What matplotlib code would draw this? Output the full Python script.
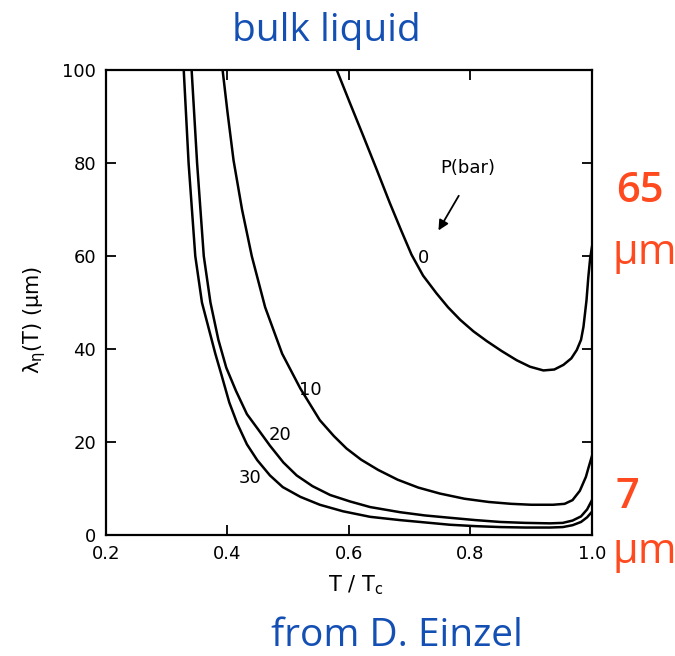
import matplotlib.pyplot as plt

# lambda_eta(T) in um vs T/Tc
p0_x = [0.580, 0.602, 0.624, 0.646, 0.667, 0.686, 0.703, 0.722, 0.744, 0.763, 0.783, 0.805,
        0.827, 0.851, 0.876, 0.898, 0.920, 0.938, 0.953, 0.966, 0.975, 0.982, 0.986, 0.991,
        0.994, 0.997, 1.0]
p0_y = [100, 92.8, 85.7, 78.5, 71.5, 65.5, 60.3, 55.8, 52.0, 49.0, 46.3, 43.8,
        41.7, 39.6, 37.6, 36.2, 35.4, 35.6, 36.6, 38.0, 39.8, 42.0, 44.8, 50.5,
        55.5, 59.5, 62.0]

p10_x = [0.392, 0.400, 0.410, 0.424, 0.440, 0.462, 0.490, 0.520, 0.552, 0.575, 0.596, 0.620,
         0.648, 0.680, 0.714, 0.750, 0.790, 0.830, 0.867, 0.900, 0.936, 0.955, 0.968, 0.980,
         0.990, 0.995, 1.0]
p10_y = [100, 91, 80.6, 70, 60, 49, 39, 31.5, 24.7, 21.3, 18.6, 16.2,
         14.0, 11.9, 10.2, 8.9, 7.8, 7.1, 6.7, 6.5, 6.5, 6.7, 7.5, 9.5,
         12.5, 14.8, 17.0]

p20_x = [0.341, 0.350, 0.361, 0.372, 0.385, 0.398, 0.414, 0.432, 0.450, 0.470, 0.492,
         0.514, 0.540, 0.569, 0.602, 0.635, 0.684, 0.725, 0.766, 0.808, 0.849, 0.890,
         0.931, 0.952, 0.968, 0.982, 0.992, 1.0]
p20_y = [100, 80, 60, 50, 42, 36, 31, 26, 22.8, 19.2, 15.6,
         12.8, 10.5, 8.6, 7.2, 6.0, 4.9, 4.2, 3.7, 3.2, 2.8, 2.6,
         2.5, 2.6, 3.1, 4.0, 5.5, 7.5]

p30_x = [0.328, 0.336, 0.347, 0.358, 0.370, 0.380, 0.390, 0.403, 0.416, 0.432, 0.449,
         0.470, 0.491, 0.520, 0.552, 0.590, 0.635, 0.684, 0.725, 0.766, 0.808, 0.849,
         0.890, 0.931, 0.952, 0.968, 0.982, 0.992, 1.0]
p30_y = [100, 80, 60, 50, 44, 39, 34.5, 28.5, 24, 19.5, 16.1,
         12.8, 10.3, 8.2, 6.5, 5.1, 3.9, 3.2, 2.7, 2.2, 1.9, 1.7,
         1.6, 1.6, 1.7, 2.1, 2.8, 3.8, 5.0]

curve_labels = ["0", "10", "20", "30"]
label_x = [0.722, 0.537, 0.486, 0.437]
label_y = [59.6, 31.2, 21.5, 12.3]

x_ticks = [0.2, 0.4, 0.6, 0.8, 1.0]
x_tick_labels = ["0.2", "0.4", "0.6", "0.8", "1.0"]
y_ticks = [0, 20, 40, 60, 80, 100]

fig = plt.figure(figsize=(6.75, 6.56), dpi=100)
ax = fig.add_axes([0.157, 0.1845, 0.72, 0.7085])

for xs, ys in [(p0_x, p0_y), (p10_x, p10_y), (p20_x, p20_y), (p30_x, p30_y)]:
    ax.plot(xs, ys, color="black", lw=1.8, solid_joinstyle="round")

for lab, lx, ly in zip(curve_labels, label_x, label_y):
    ax.text(lx, ly, lab, fontsize=13, ha="center", va="center")

ax.text(0.795, 79, "P(bar)", fontsize=13, ha="center", va="center")
ax.annotate("", xy=(0.745, 65.0), xytext=(0.783, 73.5),
            arrowprops=dict(arrowstyle="-|>", color="black", lw=1.3, mutation_scale=15))

ax.set_xlim(0.2, 1.0)
ax.set_ylim(0, 100)
ax.set_xticks(x_ticks)
ax.set_xticklabels(x_tick_labels)
ax.set_yticks(y_ticks)
ax.tick_params(direction="in", length=7, width=1.3, labelsize=13,
               top=True, right=True, pad=7)
for s in ax.spines.values():
    s.set_linewidth(1.6)

fig.text(0.526, 0.108, "T / T$_\\mathregular{c}$", fontsize=15, ha="center", va="center")
fig.text(0.052, 0.512, r"$\mathregular{\lambda_\eta}$(T) ($\mathregular{\mu}$m)",
         fontsize=15, rotation=90, ha="center", va="center")

blue = "#1450b4"
red = "#fe4a1e"
fig.text(0.484, 0.952, "bulk liquid", color=blue, fontsize=28, family="Open Sans",
         ha="center", va="center")
fig.text(0.588, 0.030, "from D. Einzel", color=blue, fontsize=28, family="Open Sans",
         ha="center", va="center")
fig.text(0.948, 0.709, "65", color=red, fontsize=30, family="Open Sans", weight="semibold",
         ha="center", va="center")
fig.text(0.953, 0.612, r"$\mathregular{\mu}$m", color=red, fontsize=30, family="Open Sans",
         ha="center", va="center")
fig.text(0.929, 0.242, "7", color=red, fontsize=30, family="Open Sans", weight="semibold",
         ha="center", va="center")
fig.text(0.953, 0.155, r"$\mathregular{\mu}$m", color=red, fontsize=30, family="Open Sans",
         ha="center", va="center")

fig.savefig("out.png", dpi=100)
